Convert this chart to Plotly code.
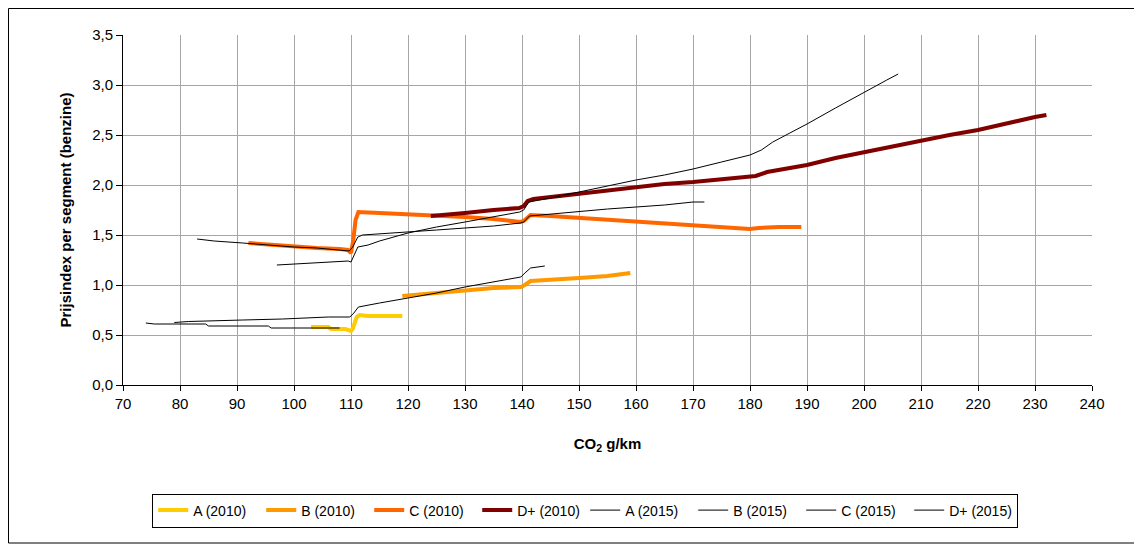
import plotly.graph_objects as go

# ---- data ----
a2010_x = [103, 106, 106.5, 109, 110, 110.3, 111, 111.5, 113, 119]
a2010_y = [0.58, 0.58, 0.56, 0.56, 0.54, 0.56, 0.68, 0.70, 0.69, 0.69]

b2010_x = [119, 121, 125, 130, 135, 139.8, 140.5, 141.5, 145, 150, 155, 159]
b2010_y = [0.89, 0.90, 0.92, 0.95, 0.97, 0.98, 1.00, 1.04, 1.05, 1.07, 1.09, 1.12]

c2010_x = [92, 96, 100, 104, 108, 109.5, 110, 110.4, 110.8, 111.3, 115, 120, 125, 130, 135,
           139.7, 140.3, 141.5, 145, 150, 155, 160, 165, 170, 175, 180, 181.5, 185, 189]
c2010_y = [1.42, 1.40, 1.38, 1.37, 1.36, 1.35, 1.32, 1.45, 1.65, 1.73, 1.72, 1.71, 1.70, 1.68, 1.66,
           1.63, 1.64, 1.70, 1.69, 1.67, 1.66, 1.63, 1.61, 1.59, 1.58, 1.56, 1.57, 1.58, 1.58]

d2010_x = [124, 127, 130, 135, 139.5, 140.3, 141, 142, 145, 150, 155, 160, 165, 170, 175, 180,
           181, 183, 185, 190, 195, 200, 205, 210, 215, 220, 225, 230, 232]
d2010_y = [1.69, 1.70, 1.72, 1.75, 1.77, 1.79, 1.84, 1.86, 1.88, 1.92, 1.95, 1.98, 2.01, 2.03, 2.06, 2.08,
           2.09, 2.13, 2.15, 2.20, 2.27, 2.33, 2.39, 2.44, 2.50, 2.55, 2.62, 2.68, 2.70]

a2015_x = [74, 75.5, 84.5, 85, 95.5, 96, 108]
a2015_y = [0.62, 0.61, 0.61, 0.59, 0.59, 0.57, 0.57]

b2015_x = [79, 81.5, 91, 98, 106, 109.8, 110.5, 111.3, 115, 119, 125, 130, 135, 139.8, 140.5, 141.5, 144]
b2015_y = [0.625, 0.635, 0.65, 0.66, 0.68, 0.68, 0.72, 0.78, 0.82, 0.86, 0.92, 0.98, 1.03, 1.08, 1.12, 1.17, 1.19]

c2015_x = [83, 86, 91, 95, 100, 104, 108, 109.7, 110.3, 111.2, 112, 115, 120, 125, 130, 135,
           139.7, 140.3, 141.3, 145, 150, 155, 160, 165, 170, 172]
c2015_y = [1.46, 1.44, 1.42, 1.40, 1.38, 1.37, 1.35, 1.34, 1.38, 1.48, 1.50, 1.51, 1.53, 1.55, 1.57, 1.59,
           1.62, 1.63, 1.69, 1.71, 1.73, 1.76, 1.78, 1.80, 1.83, 1.83]

d2015_x = [97, 100, 105, 109.5, 110, 110.6, 111.2, 113, 115, 120, 125, 130, 135, 139.6, 140.3, 141.2,
           145, 150, 155, 160, 165, 170, 175, 180, 182, 184, 187, 190, 195, 200, 204, 206]
d2015_y = [1.20, 1.21, 1.23, 1.24, 1.23, 1.30, 1.38, 1.40, 1.44, 1.52, 1.58, 1.63, 1.68, 1.73, 1.75, 1.83,
           1.87, 1.93, 1.99, 2.05, 2.10, 2.16, 2.23, 2.30, 2.35, 2.43, 2.52, 2.61, 2.77, 2.93, 3.05, 3.11]

x_ticks = list(range(70, 241, 10))
y_ticks = [0, 0.5, 1.0, 1.5, 2.0, 2.5, 3.0, 3.5]

series = [
    ("A (2010)", a2010_x, a2010_y, "#FFCC00", 4),
    ("B (2010)", b2010_x, b2010_y, "#FF9900", 4),
    ("C (2010)", c2010_x, c2010_y, "#FF6600", 4),
    ("D+ (2010)", d2010_x, d2010_y, "#800000", 4),
    ("A (2015)", a2015_x, a2015_y, "#000000", 1),
    ("B (2015)", b2015_x, b2015_y, "#000000", 1),
    ("C (2015)", c2015_x, c2015_y, "#000000", 1),
    ("D+ (2015)", d2015_x, d2015_y, "#000000", 1),
]

FONT = "Arial, Liberation Sans, sans-serif"

# page body has an 8px margin, so the figure is laid out 8px smaller
W, H = 1134, 536
ML, MT, PW, PH = 115, 27, 969, 350

fig = go.Figure()
for name, xs, ys, col, w in series:
    fig.add_trace(go.Scatter(x=xs, y=ys, mode="lines", name=name,
                             line=dict(color=col, width=w)))

fig.update_layout(
    width=W, height=H,
    margin=dict(l=ML, r=W - ML - PW, t=MT, b=H - MT - PH),
    paper_bgcolor="white", plot_bgcolor="white",
    separators=",.",
    font=dict(family=FONT, size=15, color="black"),
    showlegend=True,
    legend=dict(orientation="h", x=0.477, xanchor="center", y=-0.31, yanchor="top",
                bordercolor="black", borderwidth=1, font=dict(size=14, family=FONT),
                traceorder="normal", itemwidth=30, entrywidth=63, entrywidthmode="pixels"),
    shapes=[dict(type="rect", xref="paper", yref="paper",
                 x0=(0.5 - ML) / PW, x1=(W - 0.5 - ML) / PW,
                 y0=(MT + PH - (H - 1)) / PH, y1=(MT + PH - 0.5) / PH,
                 line=dict(color="black", width=1), fillcolor="rgba(0,0,0,0)", layer="below")],
)

fig.update_xaxes(range=[70, 240], tickvals=x_ticks, showgrid=True, gridcolor="#A6A6A6", gridwidth=1,
                 showline=True, linecolor="black", linewidth=1, ticks="outside", ticklen=5,
                 tickcolor="black", zeroline=False, tickfont=dict(size=15),
                 title=dict(text="<b>CO<sub>2</sub> g/km</b>", font=dict(size=15), standoff=27))
fig.update_yaxes(range=[0, 3.5], tickvals=y_ticks, tickformat=".1f", showgrid=True, gridcolor="#A6A6A6",
                 gridwidth=1, showline=True, linecolor="black", linewidth=1, ticks="outside", ticklen=6,
                 tickcolor="black", zeroline=False, tickfont=dict(size=15),
                 title=dict(text="<b>Prijsindex per segment (benzine)</b>", font=dict(size=15), standoff=16))

fig.write_html("out.html")
